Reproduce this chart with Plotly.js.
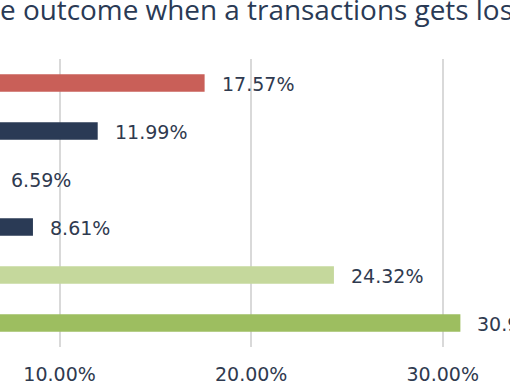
<!DOCTYPE html>
<html>
<head>
<meta charset="utf-8">
<script src="https://cdn.plot.ly/plotly-3.0.1.min.js"></script>
<style>
html,body{margin:0;padding:0;width:510px;height:382px;overflow:hidden;background:#fff;position:relative;}
#chart{position:absolute;left:-140px;top:0;width:650px;height:400px;}
</style>
</head>
<body>
<div id="chart"></div>
<script>
// Data (values in percent)
var categories = ["Outcome 1", "Outcome 2", "Outcome 3", "Outcome 4", "Outcome 5", "Outcome 6"];
var values = [17.57, 11.99, 6.59, 8.61, 24.32, 30.92];
var barColors = ["#C95F58", "#2A3A55", "#D99694", "#2A3A55", "#C5D89C", "#9DBE60"];
var tickValues = [10, 20, 30];
var tickLabels = ["10.00%", "20.00%", "30.00%"];
var titleText = "e outcome when a transactions gets lost";

var textColor = "#2F3A4F";

var bars = {
  type: "bar",
  orientation: "h",
  x: values,
  y: categories,
  marker: {color: barColors},
  width: 0.36,
  hoverinfo: "none"
};

var annotations = values.map(function(v, i){
  return {
    x: v, y: categories[i], xref: "x", yref: "y",
    text: v.toFixed(2) + "%",
    showarrow: false, xanchor: "left", yanchor: "middle",
    xshift: 15, yshift: -1,
    font: {family: "DejaVu Sans", size: 19, color: textColor}
  };
});

var layout = {
  width: 650, height: 400,
  margin: {l: 8, r: 0, t: 59, b: 53, pad: 0},
  paper_bgcolor: "#ffffff",
  plot_bgcolor: "#ffffff",
  showlegend: false,
  title: {
    text: titleText,
    x: 0.2056, xref: "paper", xanchor: "left",
    y: 1, yref: "container", yanchor: "top",
    pad: {t: 0, l: 0, r: 0, b: 0},
    font: {family: "Open Sans", size: 27.9, color: "#2A3A55"}
  },
  xaxis: {
    range: [0, 33.51],
    tickvals: tickValues,
    ticktext: tickLabels,
    showgrid: true,
    gridcolor: "#D9D9D9",
    gridwidth: 2,
    zeroline: false,
    showline: false,
    ticks: "",
    ticklabelstandoff: 14,
    tickfont: {family: "DejaVu Sans", size: 19, color: textColor},
    fixedrange: true
  },
  yaxis: {
    categoryorder: "array",
    categoryarray: categories,
    autorange: "reversed",
    showticklabels: false,
    showgrid: false,
    zeroline: false,
    showline: false,
    ticks: "",
    fixedrange: true
  },
  annotations: annotations
};

Plotly.newPlot("chart", [bars], layout, {displayModeBar: false, staticPlot: true});
</script>
</body>
</html>
